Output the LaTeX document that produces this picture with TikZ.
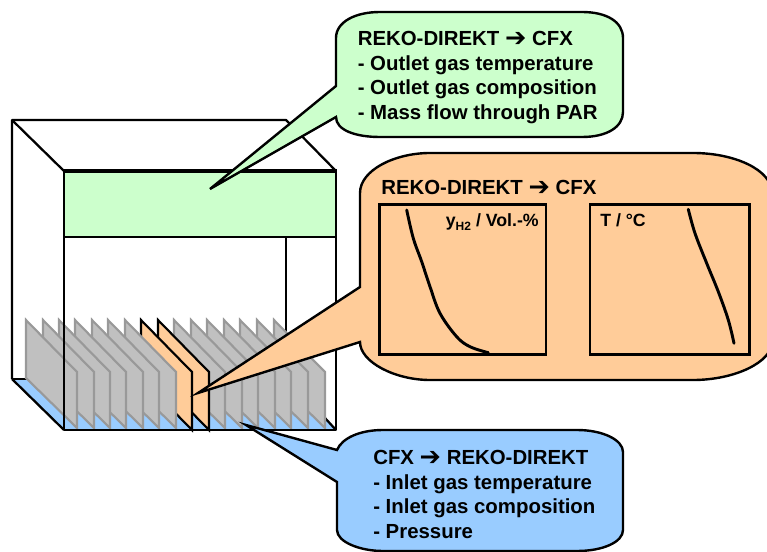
\documentclass[tikz,border=0pt]{standalone}
\usepackage{fontspec}
\setmainfont{Liberation Sans}
\newfontfamily\symfont{DejaVu Sans}
\definecolor{bgreen}{HTML}{CCFFCC}
\definecolor{borange}{HTML}{FFCC99}
\definecolor{bblue}{HTML}{99CCFF}
\definecolor{pgray}{HTML}{C0C0C0}
\definecolor{pedge}{HTML}{999999}
\newcommand{\arr}{\raisebox{-0.5pt}{\smash{\scalebox{1.25}{\symfont\char"2794}}}}
\tikzset{
  frame/.style={draw=black,line width=1.7pt,line join=round},
  plategray/.style={fill=pgray,draw=pedge,line width=1.6pt,line join=miter},
  plateor/.style={fill=borange,draw=black,line width=1.6pt,line join=miter},
  bubble/.style={draw=black,line width=1.8pt,line join=miter},
  plotbox/.style={draw=black,line width=1.8pt,outer sep=0pt},
  curve/.style={draw=black,line width=2.2pt,line cap=round,line join=round},
  calltext/.style={font=\fontsize{15.3pt}{18.4pt}\selectfont\bfseries,align=left,anchor=north west,inner sep=0pt},
  plotlabel/.style={font=\fontsize{13.3pt}{15pt}\selectfont\bfseries,inner sep=0pt}
}
\begin{document}
\begin{tikzpicture}[x=0.75pt,y=-0.75pt]
\useasboundingbox (0,0) rectangle (767,552);
\clip (0,0) rectangle (767,552);
% floor and back of the box
\fill[bblue] (12,379) -- (286,379) -- (336,430) -- (64,430) -- cycle;
\draw[frame] (12,379) -- (12,120) -- (286,120) -- (336,171);
\draw[frame] (12,120) -- (64,171);
\draw[frame] (286,237) -- (286,379);
\draw[frame] (12,379) -- (64,430);
\draw[frame] (12,379) -- (30,379);
\draw[frame] (325,418) -- (336,430);
% plates, from the rear (right) to the front (left)
\foreach \p in {274,257,240,224,207,191,174}{
  \draw[plategray] (\p,320) -- (\p+51,372) -- (\p+51,428) -- (\p,378) -- cycle;
}
\foreach \p in {158,141}{
  \draw[plateor] (\p,320) -- (\p+51,372) -- (\p+51,430) -- (\p,378) -- cycle;
}
\foreach \p in {125,108,92,75,59,43,26}{
  \draw[plategray] (\p,320) -- (\p+51,372) -- (\p+51,428) -- (\p,378) -- cycle;
}
% green ceiling panel and front frame
\fill[bgreen] (64,171) rectangle (336,237);
\draw[frame] (64,237) -- (336,237);
\draw[frame] (64,430) -- (64,171);
\draw[draw=black,line width=2.3pt] (63,171) -- (337,171);
\draw[frame] (336,171) -- (336,430) -- (64,430);
% green callout
\draw[bubble,fill=bgreen] (210,189) -- (336,86) -- (336,38)
  .. controls (336,22) and (355,12) .. (380,12) -- (582,12)
  .. controls (607,12) and (623,22) .. (623,38) -- (623,112)
  .. controls (623,127) and (607,137) .. (582,137) -- (380,137)
  .. controls (355,137) and (336,130) .. (336,117) -- cycle;
% orange callout
\draw[bubble,fill=borange] (198,393) -- (360,287) -- (360,193)
  .. controls (360,170) and (395,153) .. (430,153) -- (693,153)
  .. controls (735,153) and (772,170) .. (772,193) -- (772,342)
  .. controls (772,362) and (735,380) .. (693,380) -- (430,380)
  .. controls (395,380) and (360,362) .. (360,342) -- cycle;
% blue callout
\draw[bubble,fill=bblue] (246,425) -- (337,450)
  .. controls (342,438) and (360,430) .. (383,430) -- (577,430)
  .. controls (603,430) and (623,440) .. (623,452) -- (623,530)
  .. controls (623,542) and (603,551) .. (577,551) -- (383,551)
  .. controls (360,551) and (337,542) .. (337,530) -- (337,482) -- cycle;
% texts
\node[calltext] (greentext) at (357.5,31) {REKO-DIREKT \arr{} CFX\\- Outlet gas temperature\\- Outlet gas composition\\- Mass flow through PAR};
\node[calltext] (orangetext) at (381,180) {REKO-DIREKT \arr{} CFX};
\node[calltext] (bluetext) at (373,450) {CFX \arr{} REKO-DIREKT\\- Inlet gas temperature\\- Inlet gas composition\\- Pressure};
% plots
\node[plotbox,minimum width=125pt,minimum height=112.5pt,inner sep=0pt,anchor=north west] (plotone) at (379.5,204.5) {};
\node[plotbox,minimum width=119.5pt,minimum height=112.5pt,inner sep=0pt,anchor=north west] (plottwo) at (590,204.5) {};
\draw[curve] plot[smooth,tension=0.6] coordinates {(406.7,210) (413.3,238.3) (421.7,261.7) (430,286.7) (440,313.3) (456.7,336.7) (470,346.7) (488.3,352.7)};
\draw[curve] plot[smooth,tension=0.6] coordinates {(688.3,209.3) (695,233.3) (706.7,263.3) (718.3,291.7) (728.3,320) (734,343.3)};
\node[plotlabel,anchor=base east] (ylabel) at (539,227) {y\raisebox{-2.5pt}{\fontsize{9pt}{10pt}\selectfont H2} / Vol.-\%};
\node[plotlabel,anchor=base west] (tlabel) at (600,227) {T / °C};
\end{tikzpicture}
\end{document}
